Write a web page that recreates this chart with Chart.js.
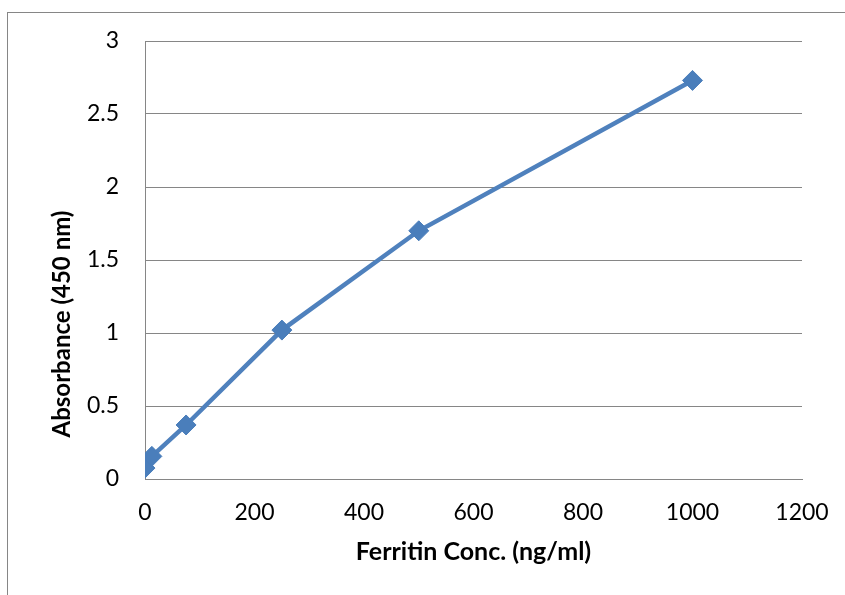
<!DOCTYPE html>
<html>
<head>
<meta charset="utf-8">
<script src="https://cdn.jsdelivr.net/npm/chart.js@4"></script>
<style>
  body { margin: 0; background: #fff; }
  canvas { display: block; }
</style>
</head>
<body>
<canvas id="ferritinChart" width="845" height="595"></canvas>
<script>
// standard curve readings
const concentrations = [0, 12.5, 75, 250, 500, 1000];
const absorbance = [0.075, 0.155, 0.37, 1.02, 1.70, 2.73];
const xTicks = [0, 200, 400, 600, 800, 1000, 1200];
const yTicks = [0, 0.5, 1, 1.5, 2, 2.5, 3];
const xTitle = 'Ferritin Conc. (ng/ml)';
const yTitle = 'Absorbance (450 nm)';

const gray = '#868686';
const blue = '#4A7EBB';

// outer chart frame + rotated y title
const framePlugin = {
    id: 'frame',
    beforeDraw(chart) {
        const c = chart.ctx;
        c.save();
        c.fillStyle = '#fff';
        c.fillRect(0, 0, chart.width, chart.height);
        c.strokeStyle = gray;
        c.lineWidth = 1;
        c.strokeRect(7.5, 12.5, chart.width + 20, chart.height + 20);
        c.restore();
    },
    afterDraw(chart) {
        const c = chart.ctx;
        c.save();
        c.translate(62, 324);
        c.rotate(-Math.PI / 2);
        c.font = 'bold 24px Lato';
        c.fillStyle = '#000';
        c.textAlign = 'center';
        c.textBaseline = 'middle';
        c.fillText(yTitle, 0, 0);
        c.restore();
    }
};

const ctx = document.getElementById('ferritinChart').getContext('2d');
const chart = new Chart(ctx, {
    type: 'scatter',
    data: {
        datasets: [{
            data: concentrations.map((x, i) => ({ x: x, y: absorbance[i] })),
            showLine: true,
            borderColor: '#4F81BD',
            borderWidth: 4.5,
            pointStyle: 'rectRot',
            pointRadius: 10,
            pointBackgroundColor: blue,
            pointBorderColor: blue,
            pointBorderWidth: 1,
            tension: 0
        }]
    },
    options: {
        responsive: false,
        animation: false,
        layout: { padding: { top: 41, right: 43, left: 0, bottom: 0 } },
        plugins: { legend: { display: false }, tooltip: { enabled: false } },
        scales: {
            x: {
                type: 'linear',
                min: 0, max: 1200,
                afterBuildTicks: s => { s.ticks = xTicks.map(v => ({ value: v })); },
                afterFit: s => { s.height = 116; s.paddingRight = 0; s.paddingLeft = 0; },
                grid: { display: false, drawTicks: false },
                border: { display: true, color: gray, width: 1 },
                ticks: {
                    color: '#000', font: { family: 'Lato', size: 23 }, padding: 20,
                    callback: v => String(v)
                },
                title: {
                    display: true, text: xTitle, color: '#000',
                    font: { family: 'Lato', size: 25, weight: 'bold' },
                    padding: { top: 0, bottom: 28 }
                }
            },
            y: {
                type: 'linear',
                min: 0, max: 3,
                afterBuildTicks: s => { s.ticks = yTicks.map(v => ({ value: v })); },
                afterFit: s => { s.width = 145; s.paddingTop = 0; s.paddingBottom = 0; },
                grid: { color: gray, lineWidth: 1, drawTicks: false },
                border: { display: true, color: gray, width: 1 },
                ticks: {
                    color: '#000', font: { family: 'Lato', size: 23 }, padding: 26,
                    callback: v => String(v)
                }
            }
        }
    },
    plugins: [framePlugin]
});
</script>
</body>
</html>
